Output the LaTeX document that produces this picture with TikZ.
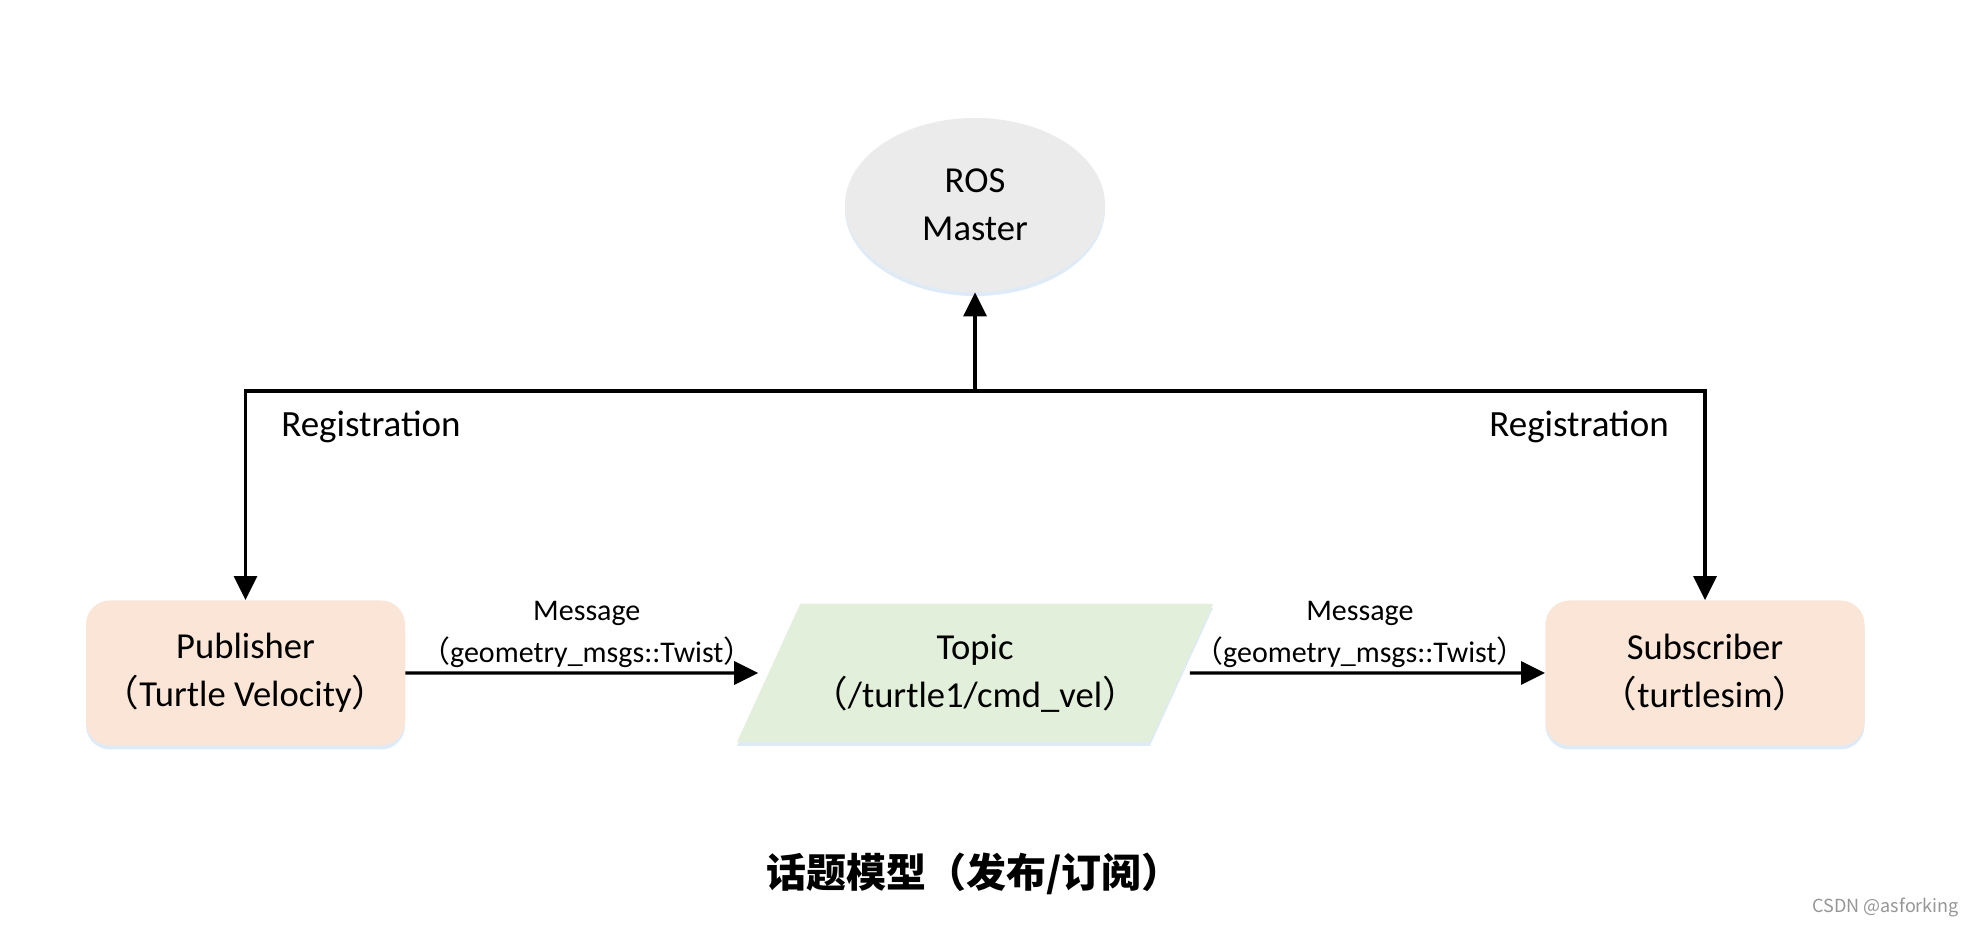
\documentclass[tikz,border=0pt]{standalone}
\usepackage{fontspec}
\setmainfont{Carlito}
\newfontfamily\cjkfont{Noto Sans CJK SC}
\usepackage{xcolor}
\definecolor{masterfill}{RGB}{235,235,235}
\definecolor{nodefill}{RGB}{251,229,214}
\definecolor{topicfill}{RGB}{226,239,218}
\definecolor{glowblue}{RGB}{214,230,245}
\definecolor{markgray}{RGB}{150,150,150}
\usepackage{tikz}
\usetikzlibrary{arrows.meta}
\usetikzlibrary{shapes.geometric}
\usetikzlibrary{shadows}
\newcommand{\fwl}{{\cjkfont （}}
\newcommand{\fwr}{{\cjkfont ）}}
\tikzset{
    common/.style={align=center, inner sep=0pt, font=\fontsize{18.3}{24}\selectfont},
    glow/.style={drop shadow={shadow xshift=0pt, shadow yshift=-2pt, fill=glowblue, opacity=0.8}},
    master/.style={common, ellipse, fill=masterfill, glow, minimum width=130pt, minimum height=87pt},
    endpoint/.style={common, rectangle, rounded corners=12pt, fill=nodefill, glow, minimum width=159.5pt, minimum height=72.5pt},
    topic/.style={common, trapezium, trapezium left angle=51, trapezium right angle=129,
        trapezium stretches body, fill=topicfill, glow, minimum width=238pt, minimum height=69pt},
    flow/.style={line width=1.6pt, -{Triangle[width=11.5pt, length=12pt]}},
    msg/.style={align=center, inner sep=2pt, font=\fontsize{15}{21}\selectfont},
    reg/.style={font=\fontsize{18.5}{22}\selectfont}
}

\begin{document}
\begin{tikzpicture}[x=0.5pt, y=-0.5pt]
      \fill[white] (0,0) rectangle (1981,929);
      \useasboundingbox (0,0) rectangle (1981,929);

      \node[master] (master) at (975,205) {ROS\\Master};
      \node[endpoint] (pub) at (245.5,673) {Publisher\\\fwl Turtle Velocity\fwr};
      \node[topic] (topic) at (975,673) {Topic\\\fwl/turtle1/cmd\_vel\fwr};
      \node[endpoint] (sub) at (1705,673) {Subscriber\\\fwl turtlesim\fwr};
      \coordinate (hub) at (975,391);

      \node[reg] (regpub) at (371,427) {Registration};
      \node[reg] (regsub) at (1579,427) {Registration};

      \draw[flow] (hub) -- (master.south);
      \draw[flow] (hub) -| (pub.north);
      \draw[flow] (hub) -| (sub.north);

      \draw[flow, shorten >=5pt] (pub) -- (topic)
          node[msg, pos=0.5, above] (msgpub) {Message\\\fwl geometry\_msgs::Twist\fwr};
      \draw[flow, shorten <=4pt] (topic) -- (sub)
          node[msg, pos=0.49, above] (msgsub) {Message\\\fwl geometry\_msgs::Twist\fwr};

      \node[font=\cjkfont\bfseries\fontsize{20}{24}\selectfont] (title) at (974,874) {话题模型（发布/订阅）};
      \node[anchor=east, text=markgray, font=\cjkfont\fontsize{9}{11}\selectfont] (mark) at (1966,907) {CSDN @asforking};
\end{tikzpicture}
\end{document}
